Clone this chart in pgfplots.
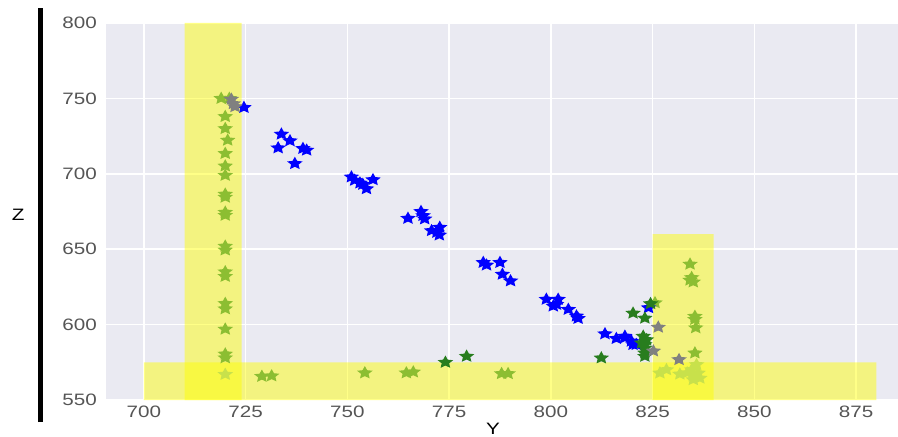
\documentclass[border=0pt]{standalone}
\usepackage{pgfplots}
\pgfplotsset{compat=1.18}
\usepackage{fontspec}
\setmainfont{Liberation Sans}
\newfontfamily\tickfont[FakeStretch=1.25]{Liberation Sans}
\definecolor{bg}{RGB}{234,234,242}
\definecolor{tickgray}{RGB}{85,85,85}
\definecolor{ygreen}{RGB}{140,190,50}
\definecolor{lgreen}{RGB}{200,225,75}
\definecolor{dgreen}{RGB}{40,125,30}
\definecolor{sgray}{RGB}{128,128,128}
\definecolor{bary}{RGB}{255,255,0}
\pgfdeclareplotmark{fstar}{%
  \pgfpathmoveto{\pgfpointpolar{90}{\pgfplotmarksize}}%
  \pgfpathlineto{\pgfpointpolar{126}{0.48\pgfplotmarksize}}%
  \pgfpathlineto{\pgfpointpolar{162}{\pgfplotmarksize}}%
  \pgfpathlineto{\pgfpointpolar{198}{0.48\pgfplotmarksize}}%
  \pgfpathlineto{\pgfpointpolar{234}{\pgfplotmarksize}}%
  \pgfpathlineto{\pgfpointpolar{270}{0.48\pgfplotmarksize}}%
  \pgfpathlineto{\pgfpointpolar{306}{\pgfplotmarksize}}%
  \pgfpathlineto{\pgfpointpolar{342}{0.48\pgfplotmarksize}}%
  \pgfpathlineto{\pgfpointpolar{18}{\pgfplotmarksize}}%
  \pgfpathlineto{\pgfpointpolar{54}{0.48\pgfplotmarksize}}%
  \pgfpathclose\pgfusepathqfill}
\pgfplotsset{starplot/.style={only marks, mark=fstar, mark size=6.8bp, mark options={xscale=1.2}}}
\begin{document}
\begin{tikzpicture}
\begin{axis}[
  scale only axis, width=792bp, height=377bp,
  xmin=690.7, xmax=885.3, ymin=550, ymax=800,
  axis background/.style={fill=bg},
  axis line style={draw=none},
  major tick length=0pt,
  xtick={700,725,...,875}, ytick={550,600,...,800},
  grid=major, major grid style={white, line width=1.5bp},
  /pgf/number format/assume math mode=true,
  /pgf/number format/1000 sep={},
  ticklabel style={font=\tickfont\fontsize{16.5bp}{20bp}\selectfont, text=tickgray, inner sep=0pt},
  yticklabel style={anchor=east, xshift=-9bp},
  xticklabel style={anchor=north, yshift=-6bp},
  xlabel={Y}, ylabel={Z},
  label style={font=\tickfont\fontsize{16.5bp}{20bp}\selectfont, text=black, inner sep=0pt},
  xlabel style={at={(axis description cs:0.4886,-0.061)}, anchor=north},
  ylabel style={at={(axis description cs:-0.111,0.491)}, anchor=center, rotate=-90},
]
\addplot[fill=bary, fill opacity=0.47, draw=none, mark=none] coordinates {(710,550) (724,550) (724,800) (710,800) (710,550)};
\addplot[fill=bary, fill opacity=0.47, draw=none, mark=none] coordinates {(825,550) (840,550) (840,660) (825,660) (825,550)};
\addplot[fill=bary, fill opacity=0.47, draw=none, mark=none] coordinates {(700,550) (880,550) (880,575) (700,575) (700,550)};
% yellowgreen
\addplot[starplot, ygreen] coordinates {
(719,750) (721,750) (720,738) (720,730) (720.6,722.3) (720,713.5) (720,705.2) (720,699)
(720,686.5) (720,684.5) (720,674.5) (720,672.5) (720,652) (720,649.5) (720,635) (720,632)
(720,614) (720,610.5) (720,597) (720,580.5) (720,578) (729,565.7) (731.4,566) (754.3,568)
(764.5,568) (766.2,568.6) (787.9,567.5) (789.5,567.5) (834.2,640.1) (834.6,631.2) (835,628.3)
(834.2,629.5) (835.4,605.5) (835.4,603.5) (835.6,597.9) (835.4,581.2) (825.6,614.5)};
% blue
\addplot[starplot, blue] coordinates {
(724.6,744) (733.8,726.3) (735.9,721.9) (733,717.2) (739.1,716.8) (740,715.7) (737.1,706.8)
(751,697.9) (751.8,695.7) (753.1,693.9) (754.7,690.1) (756.3,696.1) (753.8,693)
(764.9,670.5) (768.1,675) (768.6,672.3) (769,670.1) (770.7,662.3) (772.7,664.5) (772.6,659.4) (772,661.2)
(783.4,641.2) (784.2,639.5) (787.5,641.2) (788.1,633.4) (790.1,629)
(798.9,616.8) (801.8,616.8) (800.6,612.3) (801.4,613.4) (804.3,610.1) (806.3,605.7) (806.7,604.1)
(813.3,593.9) (816.1,590.8) (818.2,591.2) (819.8,589) (821,586.8) (818.2,592.3) (820.2,586.8) (824,611.2)};
% dark green
\addplot[starplot, dgreen] coordinates {
(774.1,575) (779.3,579) (812.4,577.9) (820.2,607.6) (823.1,604.3) (824.5,613.9)
(822.7,592.3) (823.5,590) (822.3,587.9) (823.1,586.8) (823.1,584.5) (823.1,581.2) (823.1,579)};
% gray
\addplot[starplot, sgray] coordinates {
(721.5,749.5) (722.4,744.5) (722,746.5) (826.4,598.3) (831.5,576.8) (825.2,582.5)};
% light
\addplot[starplot, lgreen] coordinates {
(720,567) (828.4,570.1) (826.8,567.9) (831.7,567.2) (834.6,570.1) (836.2,567.9)
(835,563.5) (836.6,564.5) (835.8,573.5) (835,566) (833.5,568)};
\end{axis}
\draw[line width=4.5bp, black] ([xshift=-65.5bp,yshift=-22bp]current axis.south west) -- ([xshift=-65.5bp,yshift=15bp]current axis.north west);
\pgfresetboundingbox
\useasboundingbox ([xshift=-106bp,yshift=-37bp]current axis.south west) rectangle ([yshift=23bp]current axis.north east);
\end{tikzpicture}
\end{document}
